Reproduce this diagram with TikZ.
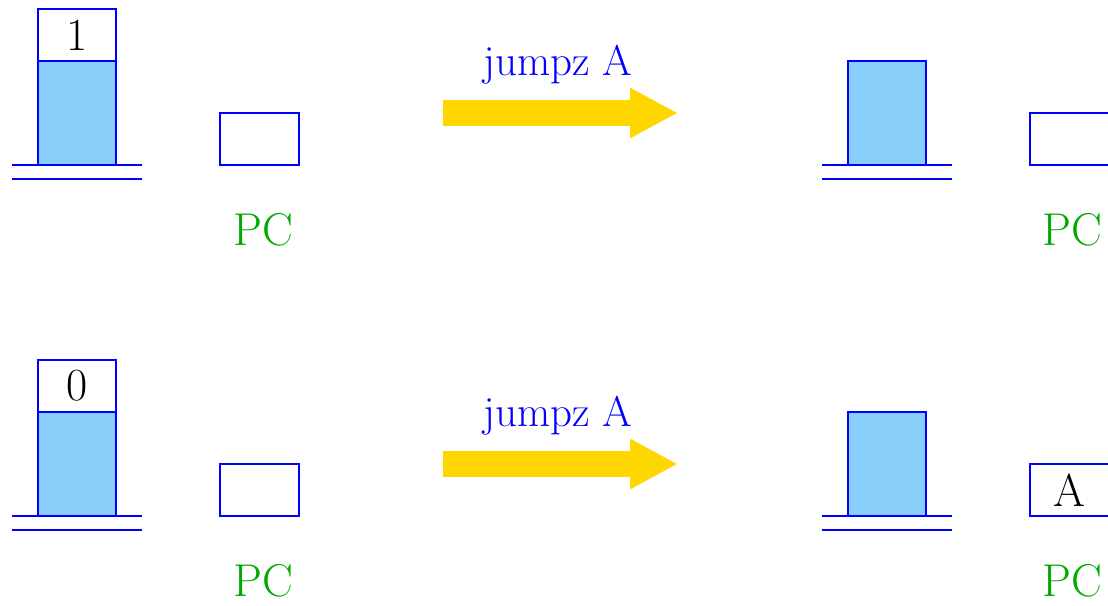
\documentclass[tikz,border=0pt]{standalone}
\usetikzlibrary{arrows.meta}
\definecolor{stkblue}{RGB}{0,0,255}
\definecolor{stkfill}{RGB}{135,206,250}
\definecolor{pcgreen}{RGB}{0,170,0}
\definecolor{arrgold}{RGB}{255,215,0}
\tikzset{
  cellbox/.style={draw=stkblue, line width=2.9pt, inner sep=0pt, minimum width=78pt},
  valcell/.style={cellbox, fill=white, minimum height=52pt, font=\fontsize{46}{50}\selectfont},
  datacell/.style={cellbox, fill=stkfill, minimum height=104pt},
  pcbox/.style={cellbox, minimum width=79pt, minimum height=52pt, font=\fontsize{46}{50}\selectfont},
  baseline/.style={draw=stkblue, line width=2.6pt},
  pclabel/.style={text=pcgreen, anchor=base, inner sep=0pt, font=\fontsize{46}{50}\selectfont},
  instrlabel/.style={text=stkblue, anchor=base, inner sep=0pt, font=\fontsize{43}{47}\selectfont},
  bigarrow/.style={draw=arrgold, line width=26pt, -{Triangle[length=48pt,width=47pt]}}
}
\begin{document}
\begin{tikzpicture}[x=1pt,y=-1pt]
\path[use as bounding box] (0,0) rectangle (1108,605);
\clip (0,0) rectangle (1108,605);
% ---------- top row ----------
\node[valcell] (v1) at (77,35) {1};
\node[datacell] (d1) at (77,113) {};
\coordinate (b1a) at (12,165); \coordinate (b1b) at (142,165);
\coordinate (b1c) at (12,178.8); \coordinate (b1d) at (142,178.8);
\draw[baseline] (b1a) -- (b1b);
\draw[baseline] (b1c) -- (b1d);
\node[pcbox] (pc1) at (259.5,139) {};
\node[pclabel] (pcl1) at (263,245) {PC};
\node[instrlabel] (ins1) at (558,75) {jumpz A};
\coordinate (a1s) at (443,113); \coordinate (a1e) at (678,113);
\draw[bigarrow] (a1s) -- (a1e);
\node[datacell] (d2) at (887,113) {};
\coordinate (b2a) at (822,165); \coordinate (b2b) at (952,165);
\coordinate (b2c) at (822,178.8); \coordinate (b2d) at (952,178.8);
\draw[baseline] (b2a) -- (b2b);
\draw[baseline] (b2c) -- (b2d);
\node[pcbox] (pc2) at (1069.5,139) {};
\node[pclabel] (pcl2) at (1072,245) {PC};
% ---------- bottom row ----------
\node[valcell] (v3) at (77,386) {0};
\node[datacell] (d3) at (77,464) {};
\coordinate (b3a) at (12,516); \coordinate (b3b) at (142,516);
\coordinate (b3c) at (12,529.8); \coordinate (b3d) at (142,529.8);
\draw[baseline] (b3a) -- (b3b);
\draw[baseline] (b3c) -- (b3d);
\node[pcbox] (pc3) at (259.5,490) {};
\node[pclabel] (pcl3) at (263,596) {PC};
\node[instrlabel] (ins2) at (558,426) {jumpz A};
\coordinate (a2s) at (443,464); \coordinate (a2e) at (678,464);
\draw[bigarrow] (a2s) -- (a2e);
\node[datacell] (d4) at (887,464) {};
\coordinate (b4a) at (822,516); \coordinate (b4b) at (952,516);
\coordinate (b4c) at (822,529.8); \coordinate (b4d) at (952,529.8);
\draw[baseline] (b4a) -- (b4b);
\draw[baseline] (b4c) -- (b4d);
\node[pcbox] (pc4) at (1069.5,490) {};
\node (pcv4) at (1069.5,490) [font=\fontsize{46}{50}\selectfont, inner sep=0pt] {A};
\node[pclabel] (pcl4) at (1072,596) {PC};
\end{tikzpicture}
\end{document}
